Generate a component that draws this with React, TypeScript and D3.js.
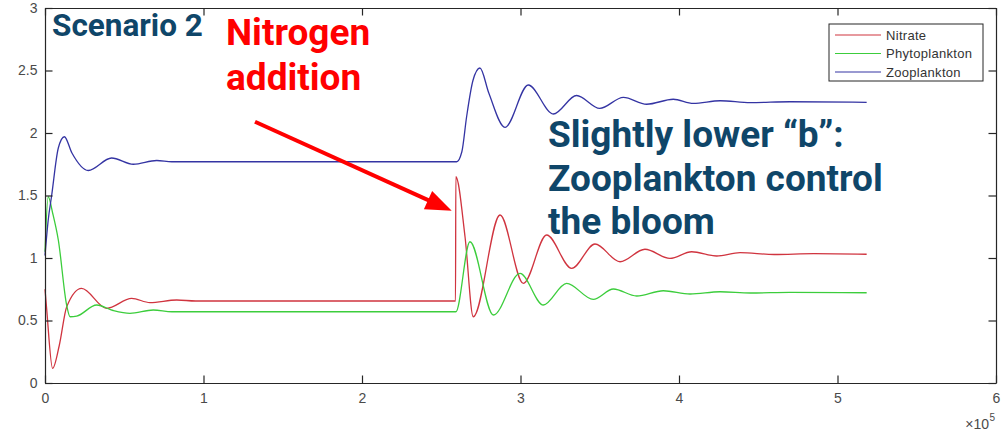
import { useEffect, useRef } from "react";
import * as d3 from "d3";

// time (s) and concentration
const nitrate: [number, number][] = [
  [0, 0.75], [1000, 0.6], [4800, 0.117], [9000, 0.3], [13700, 0.61], [23100, 0.757],
  [38900, 0.597], [54700, 0.677], [66200, 0.643], [83100, 0.664], [95000, 0.656],
  [259000, 0.656], [259200, 1.65], [265000, 1.17], [270200, 0.53], [287100, 1.344],
  [301800, 0.797], [316500, 1.184], [332300, 0.917], [347000, 1.112], [362800, 0.97],
  [378500, 1.07], [394300, 0.997], [408000, 1.05], [423800, 1.016], [438500, 1.043],
  [460000, 1.028], [485000, 1.035], [518400, 1.03],
];

const phytoplankton: [number, number][] = [
  [0, 1.05], [2000, 1.49], [5000, 1.35], [8400, 1.144], [13700, 0.62], [15800, 0.53],
  [20000, 0.535], [32600, 0.624], [43000, 0.58], [53600, 0.557], [68300, 0.584],
  [80000, 0.57], [259200, 0.57], [268100, 1.13], [282900, 0.544], [299700, 0.877],
  [314400, 0.624], [329100, 0.797], [345900, 0.669], [358600, 0.752], [373300, 0.696],
  [390100, 0.738], [407000, 0.712], [425900, 0.73], [445000, 0.72], [470000, 0.725],
  [518400, 0.722],
];

const zooplankton: [number, number][] = [
  [0, 1.02], [2000, 1.3], [4200, 1.5], [8400, 1.88], [12200, 1.97], [17000, 1.84],
  [27300, 1.7], [42000, 1.8], [55700, 1.75], [70500, 1.78], [80000, 1.77],
  [259700, 1.77], [263000, 1.85], [266000, 2.13], [270000, 2.42], [274400, 2.52],
  [280000, 2.32], [290200, 2.045], [304900, 2.384], [320700, 2.152], [335400, 2.3],
  [350000, 2.197], [364900, 2.285], [379600, 2.23], [396400, 2.27], [409000, 2.237],
  [426000, 2.258], [445000, 2.243], [470000, 2.25], [518400, 2.245],
];

const seriesNames = ["Nitrate", "Phytoplankton", "Zooplankton"];
const seriesColors = ["#d0343f", "#3ccd3c", "#3434a3"];

const xTicks = [0, 1e5, 2e5, 3e5, 4e5, 5e5, 6e5];
const yTicks = [0, 0.5, 1, 1.5, 2, 2.5, 3];

const nitrogenLabel = ["Nitrogen", "addition"];
const bLabel = ["Slightly lower \u201cb\u201d:", "Zooplankton control", "the bloom"];
// arrow in data space: tail -> head
const arrowTail: [number, number] = [132500, 2.09];
const arrowHead: [number, number] = [256600, 1.378];

const W = 1004;
const H = 432;

export default function App() {
  const svgRef = useRef<SVGSVGElement>(null);

  useEffect(() => {
    const svg = d3.select(svgRef.current);
    svg.selectAll("*").remove();

    const x = d3.scaleLinear().domain([0, 6e5]).range([45, 996]);
    const y = d3.scaleLinear().domain([0, 3]).range([383, 8]);
    const axisColor = "#262626";
    const labelFont = "'Liberation Sans', Arial, sans-serif";

    svg.append("rect").attr("width", W).attr("height", H).attr("fill", "white");

    // series
    const line = d3.line<[number, number]>()
      .x(d => x(d[0]))
      .y(d => y(d[1]))
      .curve(d3.curveMonotoneX);
    [nitrate, phytoplankton, zooplankton].forEach((s, i) => {
      svg.append("path")
        .datum(s)
        .attr("fill", "none")
        .attr("stroke", seriesColors[i])
        .attr("stroke-width", 1.3)
        .attr("d", line);
    });

    // box axes, ticks pointing inward
    const tk = 7.5;
    const bottom = svg.append("g").attr("transform", `translate(0,${y(0)})`)
      .call(d3.axisBottom(x).tickValues(xTicks).tickSize(-tk).tickSizeOuter(0).tickPadding(10)
        .tickFormat(d => String(+d / 1e5)));
    const top = svg.append("g").attr("transform", `translate(0,${y(3)})`)
      .call(d3.axisTop(x).tickValues(xTicks).tickSize(-tk).tickSizeOuter(0).tickFormat(() => ""));
    const left = svg.append("g").attr("transform", `translate(${x(0)},0)`)
      .call(d3.axisLeft(y).tickValues(yTicks).tickSize(-tk).tickSizeOuter(0).tickPadding(7.5)
        .tickFormat(d => String(d)));
    const right = svg.append("g").attr("transform", `translate(${x(6e5)},0)`)
      .call(d3.axisRight(y).tickValues(yTicks).tickSize(-tk).tickSizeOuter(0).tickFormat(() => ""));
    [bottom, top, left, right].forEach(g => {
      g.select(".domain").attr("stroke", axisColor).attr("stroke-width", 1.2);
      g.selectAll(".tick line").attr("stroke", axisColor).attr("stroke-width", 1.2);
      g.selectAll(".tick text")
        .attr("fill", "#4a4a4a")
        .attr("font-family", labelFont)
        .attr("font-size", 14);
    });

    // x10^5 exponent
    svg.append("text")
      .attr("x", 989).attr("y", 429)
      .attr("text-anchor", "end")
      .attr("fill", "#4a4a4a")
      .attr("font-family", labelFont)
      .attr("font-size", 14)
      .text("\u00d710");
    svg.append("text")
      .attr("x", 989.5).attr("y", 421)
      .attr("fill", "#4a4a4a")
      .attr("font-family", labelFont)
      .attr("font-size", 10)
      .text("5");

    // legend
    const lg = svg.append("g").attr("transform", "translate(829,24)");
    lg.append("rect")
      .attr("width", 154).attr("height", 57)
      .attr("fill", "white").attr("stroke", axisColor).attr("stroke-width", 1);
    seriesNames.forEach((name, i) => {
      const cy = 11 + i * 18.5;
      lg.append("line")
        .attr("x1", 6).attr("x2", 52).attr("y1", cy).attr("y2", cy)
        .attr("stroke", seriesColors[i]).attr("stroke-width", 1.2);
      lg.append("text")
        .attr("x", 57).attr("y", cy + 4.5)
        .attr("fill", "#333")
        .attr("font-family", labelFont)
        .attr("font-size", 13)
        .attr("letter-spacing", 0.3)
        .text(name);
    });

    // annotations
    const titleFont = "Roboto, 'Noto Sans', sans-serif";
    const navy = "#0f4669";
    svg.append("text")
      .attr("x", 52).attr("y", 35.5)
      .attr("fill", navy).attr("font-family", titleFont)
      .attr("font-weight", 700).attr("font-size", 31.5)
      .text("Scenario 2");

    nitrogenLabel.forEach((t, i) => {
      svg.append("text")
        .attr("x", 226).attr("y", 45 + i * 44.5)
        .attr("fill", "#ff0000").attr("font-family", titleFont)
        .attr("font-weight", 700).attr("font-size", 37)
        .text(t);
    });

    bLabel.forEach((t, i) => {
      svg.append("text")
        .attr("x", 548).attr("y", 147 + i * 43.5)
        .attr("fill", navy).attr("font-family", titleFont)
        .attr("font-weight", 700).attr("font-size", 37)
        .text(t);
    });

    // arrow
    const [x0, y0] = [x(arrowTail[0]), y(arrowTail[1])];
    const [x1, y1] = [x(arrowHead[0]), y(arrowHead[1])];
    const ang = Math.atan2(y1 - y0, x1 - x0);
    const headLen = 26;
    const headHalf = 10;
    const bx = x1 - headLen * Math.cos(ang);
    const by = y1 - headLen * Math.sin(ang);
    svg.append("line")
      .attr("x1", x0).attr("y1", y0).attr("x2", bx + 2 * Math.cos(ang)).attr("y2", by + 2 * Math.sin(ang))
      .attr("stroke", "#ff0000").attr("stroke-width", 4);
    const nx = -Math.sin(ang);
    const ny = Math.cos(ang);
    svg.append("path")
      .attr("d", `M${x1},${y1}L${bx + headHalf * nx},${by + headHalf * ny}L${bx - headHalf * nx},${by - headHalf * ny}Z`)
      .attr("fill", "#ff0000");
  }, []);

  return (
    <svg
      ref={svgRef}
      width={W}
      height={H}
      style={{ position: "absolute", left: 0, top: 0, display: "block" }}
    />
  );
}
